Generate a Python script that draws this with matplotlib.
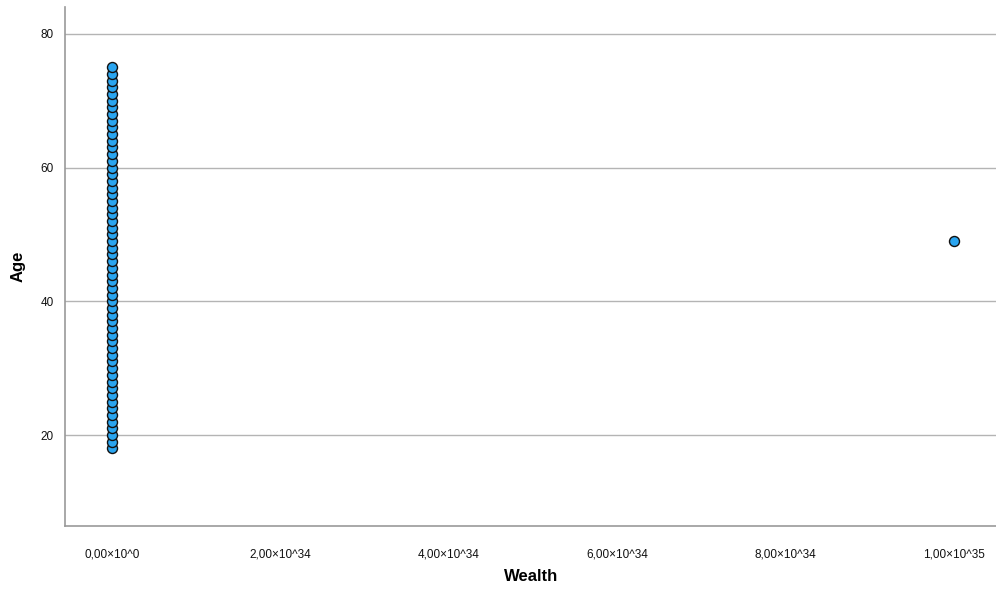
import matplotlib.pyplot as plt

plt.rcParams['font.family'] = ['Liberation Sans', 'DejaVu Sans']

# data
ages = [18, 19, 20, 21, 22, 23, 24, 25, 26, 27, 28, 29, 30, 31, 32, 33, 34,
        35, 36, 37, 38, 39, 40, 41, 42, 43, 44, 45, 46, 47, 48, 49, 50, 51,
        52, 53, 54, 55, 56, 57, 58, 59, 60, 61, 62, 63, 64, 65, 66, 67, 68,
        69, 70, 71, 72, 73, 74, 75, 49]
wealth = [0.0] * 58 + [1e35]

x_ticks = [0, 2e34, 4e34, 6e34, 8e34, 1e35]
x_tick_labels = ['0,00×10^0', '2,00×10^34', '4,00×10^34',
                 '6,00×10^34', '8,00×10^34', '1,00×10^35']
y_ticks = [20, 40, 60, 80]

fig = plt.figure(figsize=(9.96, 5.89), dpi=100)
ax = fig.add_axes([0.0653, 0.107, 0.935, 0.881])

ax.scatter(wealth, ages, s=52, color='#2aa5f0', edgecolor='#111111',
           linewidth=1.0, zorder=3)

ax.set_xlim(-0.0558e35, 1.05e35)
ax.set_ylim(6.4, 84.0)

ax.set_xticks(x_ticks)
ax.set_xticklabels(x_tick_labels)
ax.set_yticks(y_ticks)

ax.grid(axis='y', color='#b4b4b4', linewidth=1)
ax.set_axisbelow(True)
ax.tick_params(axis='both', length=0, labelsize=8.5, colors='#111111')
ax.tick_params(axis='x', pad=16)
ax.tick_params(axis='y', pad=8)

for side in ['top', 'right']:
    ax.spines[side].set_visible(False)
for side in ['left', 'bottom']:
    ax.spines[side].set_color('#999999')
    ax.spines[side].set_linewidth(1.2)

ax.set_xlabel('Wealth', fontsize=12, fontweight='bold', va='center')
ax.set_ylabel('Age', fontsize=12, fontweight='bold', va='center')
ax.xaxis.set_label_coords(0.5, -0.098)
ax.yaxis.set_label_coords(-0.0505, 0.5)

fig.savefig('out.png', dpi=100)
